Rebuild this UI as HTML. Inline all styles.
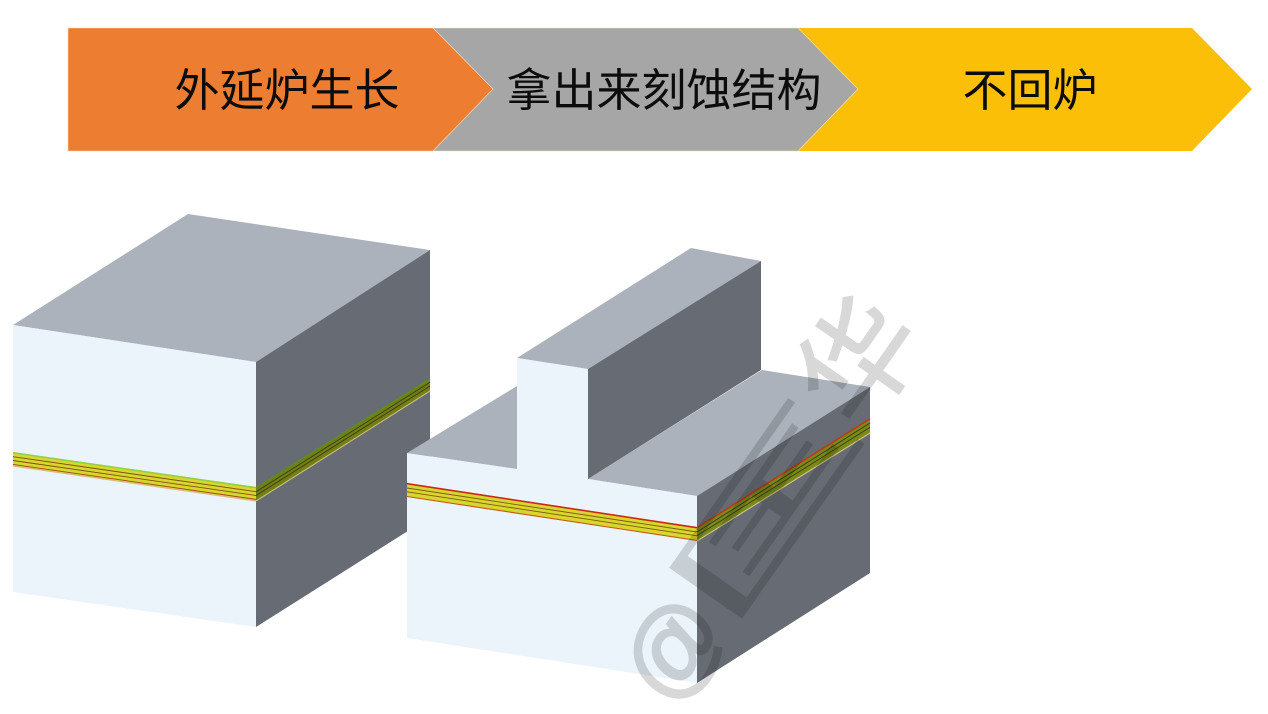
<!DOCTYPE html>
<html>
<head>
<meta charset="utf-8">
<style>
html,body{margin:0;padding:0;background:#fff;width:1268px;height:714px;overflow:hidden}
svg{display:block}
.t{font-family:"Liberation Sans","Noto Sans CJK SC",sans-serif;font-size:45px;fill:#0c0c0c}
.wm{mix-blend-mode:multiply;fill:#d8d8d8;stroke:#d8d8d8;stroke-width:1.5}
.wm text{font-family:"Liberation Sans","Noto Sans CJK SC",sans-serif}
</style>
</head>
<body>
<svg width="1268" height="714" viewBox="0 0 1268 714" xmlns="http://www.w3.org/2000/svg">
<rect width="1268" height="714" fill="#fff"/>

<!-- chevrons -->
<polygon points="798,28 1192,28 1252,89 1192,151 798,151 858,89" fill="#fcbf07"/>
<polygon points="433,28 798,28 858,89 798,151 433,151 493,89" fill="#a6a6a6" stroke="#f6e7b0" stroke-width="0.6"/>
<polygon points="68,28 433,28 493,89 433,151 68,151" fill="#ed7d31" stroke="#f7d9c2" stroke-width="0.6"/>
<text class="t" x="174.5" y="106">外延炉生长</text>
<text class="t" x="506.5" y="106">拿出来刻蚀结构</text>
<text class="t" x="962.5" y="106">不回炉</text>

<!-- left block -->
<polygon points="13,325 188,214 430,250 256,362" fill="#abb2bc"/>
<polygon points="256,362 430,250 430,517 256,627" fill="#666b74"/>
<polygon points="13,325 256,362 256,627 13,592" fill="#ebf3fb"/>
<!-- left layers front -->
<polygon points="13,452 256,487 256,501 13,466" fill="#d8d62e"/>
<g fill="none">
<polyline points="13,452.7 256,487.7" stroke="#8fd044" stroke-width="1.5"/>
<polyline points="13,456.7 256,491.7" stroke="#7d4f10" stroke-width="0.9"/>
<polyline points="13,460.5 256,495.5" stroke="#7d4f10" stroke-width="0.9"/>
<polyline points="13,464.4 256,499.4" stroke="#a0481a" stroke-width="0.9"/>
<polyline points="13,466 256,501" stroke="#dcb888" stroke-width="1.2"/>
</g>
<!-- left layers side -->
<polygon points="256,487 430,378 430,391 256,501" fill="#717f14"/>
<g fill="none">
<polyline points="256,487.7 430,378.7" stroke="#5c8c22" stroke-width="1.5"/>
<polyline points="256,491.7 430,382.3" stroke="#3c3c12" stroke-width="0.9"/>
<polyline points="256,495.5 430,386" stroke="#3c3c12" stroke-width="0.9"/>
<polyline points="256,501 430,391" stroke="#cdbb7c" stroke-width="1.1"/>
</g>

<!-- right block -->
<polygon points="407,453 517,386 517,469" fill="#abb2bc"/>
<polygon points="588,479 762,370 870,387 697,496" fill="#abb2bc"/>
<polygon points="517,358 691,248 761,261 588,369" fill="#abb2bc"/>
<polygon points="588,369 761,261 761,370 588,479" fill="#666b74"/>
<polygon points="697,496 870,387 870,573 697,683" fill="#666b74"/>
<polygon points="407,453 517,469 517,358 588,369 588,479 697,496 697,683 407,638" fill="#ebf3fb"/>
<!-- right layers front -->
<polygon points="407,483 697,527 697,541 407,497" fill="#d8d62e"/>
<g fill="none">
<polyline points="407,483.7 697,527.7" stroke="#c92a18" stroke-width="1.6"/>
<polyline points="407,488 697,532" stroke="#7d5a10" stroke-width="0.9"/>
<polyline points="407,491.8 697,535.8" stroke="#7d5a10" stroke-width="0.9"/>
<polyline points="407,496.5 697,540.5" stroke="#c8561e" stroke-width="1.1"/>
</g>
<!-- right layers side -->
<polygon points="697,527 870,418 870,433 697,541" fill="#7a8a18"/>
<g fill="none">
<polyline points="697,527.7 870,418.7" stroke="#c0341a" stroke-width="1.5"/>
<polyline points="697,532 870,423" stroke="#3c3c12" stroke-width="0.9"/>
<polyline points="697,535.8 870,427.2" stroke="#3c3c12" stroke-width="0.9"/>
<polyline points="697,541 870,433" stroke="#d0c088" stroke-width="1.1"/>
</g>

<!-- watermark -->
<g class="wm">
<text transform="translate(671.6,709.9) rotate(-55)" font-size="100" stroke-width="2.5">@</text>
<text transform="translate(725.8,634.3) rotate(-55) scale(2.3,1)" font-size="107" stroke-width="0.8">匡</text>
<text transform="translate(860,433) rotate(-55)" font-size="118">华</text>
</g>
</svg>
</body>
</html>
